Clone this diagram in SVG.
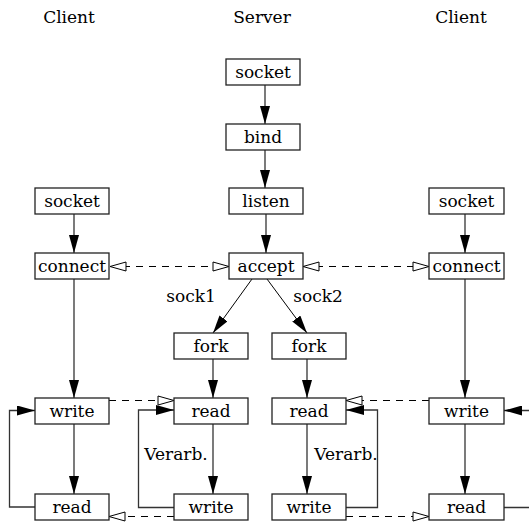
<svg xmlns="http://www.w3.org/2000/svg" width="529" height="522" viewBox="0 0 529 522">
<style>
text{font-family:"DejaVu Serif","Liberation Serif",serif;font-size:17px;fill:#000;text-anchor:middle}
.box rect{fill:#fff;stroke:#222;stroke-width:1.3}
.ln{fill:none;stroke:#333;stroke-width:1.3}
.ds{fill:none;stroke:#000;stroke-width:1.1;stroke-dasharray:7 6}
.dg{fill:none;stroke:#000;stroke-width:1}
</style>
<defs>
<marker id="arr" viewBox="0 0 18 10" refX="18" refY="5" markerWidth="18" markerHeight="10" markerUnits="userSpaceOnUse" orient="auto">
<path d="M0,0 L18,5 L0,10 Z" fill="#000"/>
</marker>
<marker id="oarr" viewBox="-1 -1 18 11" refX="16" refY="4.5" markerWidth="18" markerHeight="11" markerUnits="userSpaceOnUse" orient="auto-start-reverse">
<path d="M0,0 L16,4.5 L0,9 Z" fill="#fff" stroke="#000" stroke-width="1"/>
</marker>
</defs>
<g id="titles">
<text x="69" y="23">Client</text>
<text x="262" y="23">Server</text>
<text x="461" y="23">Client</text>
</g>
<g id="connectors">
<path class="ln" d="M265,85 V124" marker-end="url(#arr)"/>
<path class="ln" d="M265,150 V188" marker-end="url(#arr)"/>
<path class="ln" d="M266,214 V253" marker-end="url(#arr)"/>
<path class="ln" d="M74,214 V253" marker-end="url(#arr)"/>
<path class="ln" d="M74,279 V398" marker-end="url(#arr)"/>
<path class="ln" d="M74,424 V494" marker-end="url(#arr)"/>
<path class="ln" d="M465,214 V253" marker-end="url(#arr)"/>
<path class="ln" d="M465,279 V398" marker-end="url(#arr)"/>
<path class="ln" d="M465,424 V494" marker-end="url(#arr)"/>
<path class="dg" d="M252,279 L213,333" marker-end="url(#arr)"/>
<path class="dg" d="M267,279 L307,333" marker-end="url(#arr)"/>
<path class="ln" d="M213,359 V398" marker-end="url(#arr)"/>
<path class="ln" d="M307,359 V398" marker-end="url(#arr)"/>
<path class="ln" d="M213,424 V494" marker-end="url(#arr)"/>
<path class="ln" d="M307,424 V494" marker-end="url(#arr)"/>
<path class="ln" d="M35,507 H9.5 V410.5 H35" marker-end="url(#arr)"/>
<path class="ln" d="M174,507.5 H138.5 V410 H174" marker-end="url(#arr)"/>
<path class="ln" d="M346,507.5 H377.5 V410 H346" marker-end="url(#arr)"/>
<path class="ln" d="M504,507.5 H540 V410.5 H504" marker-end="url(#arr)"/>
<path class="ds" d="M110,266.5 H229" marker-start="url(#oarr)" marker-end="url(#oarr)"/>
<path class="ds" d="M303,266.5 H429" marker-start="url(#oarr)" marker-end="url(#oarr)"/>
<path class="ds" d="M109,400.5 H174" marker-end="url(#oarr)"/>
<path class="ds" d="M429,400.5 H346" marker-end="url(#oarr)"/>
<path class="ds" d="M174,516.5 H109" marker-end="url(#oarr)"/>
<path class="ds" d="M346,516.5 H429" marker-end="url(#oarr)"/>
</g>
<g id="labels">
<text x="191" y="302">sock1</text>
<text x="318" y="302">sock2</text>
<text x="176" y="460">Verarb.</text>
<text x="346" y="460">Verarb.</text>
</g>
<g id="srv-socket" class="box"><rect x="226" y="59" width="74" height="26"/><text x="263" y="78">socket</text></g>
<g id="srv-bind" class="box"><rect x="226" y="124" width="74" height="26"/><text x="263" y="143">bind</text></g>
<g id="srv-listen" class="box"><rect x="229" y="188" width="74" height="26"/><text x="266" y="207">listen</text></g>
<g id="srv-accept" class="box"><rect x="229" y="253" width="74" height="26"/><text x="266" y="272">accept</text></g>
<g id="srv-fork1" class="box"><rect x="174" y="333" width="74" height="26"/><text x="211" y="352">fork</text></g>
<g id="srv-fork2" class="box"><rect x="272" y="333" width="74" height="26"/><text x="309" y="352">fork</text></g>
<g id="srv-read1" class="box"><rect x="174" y="398" width="74" height="26"/><text x="211" y="417">read</text></g>
<g id="srv-read2" class="box"><rect x="272" y="398" width="74" height="26"/><text x="309" y="417">read</text></g>
<g id="srv-write1" class="box"><rect x="174" y="494" width="74" height="26"/><text x="211" y="513">write</text></g>
<g id="srv-write2" class="box"><rect x="272" y="494" width="74" height="26"/><text x="309" y="513">write</text></g>
<g id="cl1-socket" class="box"><rect x="35" y="188" width="74" height="26"/><text x="72" y="207">socket</text></g>
<g id="cl1-connect" class="box"><rect x="35" y="253" width="74" height="26"/><text x="72" y="272">connect</text></g>
<g id="cl1-write" class="box"><rect x="35" y="398" width="74" height="26"/><text x="72" y="417">write</text></g>
<g id="cl1-read" class="box"><rect x="35" y="494" width="74" height="26"/><text x="72" y="513">read</text></g>
<g id="cl2-socket" class="box"><rect x="429" y="188" width="75" height="26"/><text x="466.5" y="207">socket</text></g>
<g id="cl2-connect" class="box"><rect x="429" y="253" width="75" height="26"/><text x="466.5" y="272">connect</text></g>
<g id="cl2-write" class="box"><rect x="429" y="398" width="75" height="26"/><text x="466.5" y="417">write</text></g>
<g id="cl2-read" class="box"><rect x="429" y="494" width="75" height="26"/><text x="466.5" y="513">read</text></g>
</svg>
